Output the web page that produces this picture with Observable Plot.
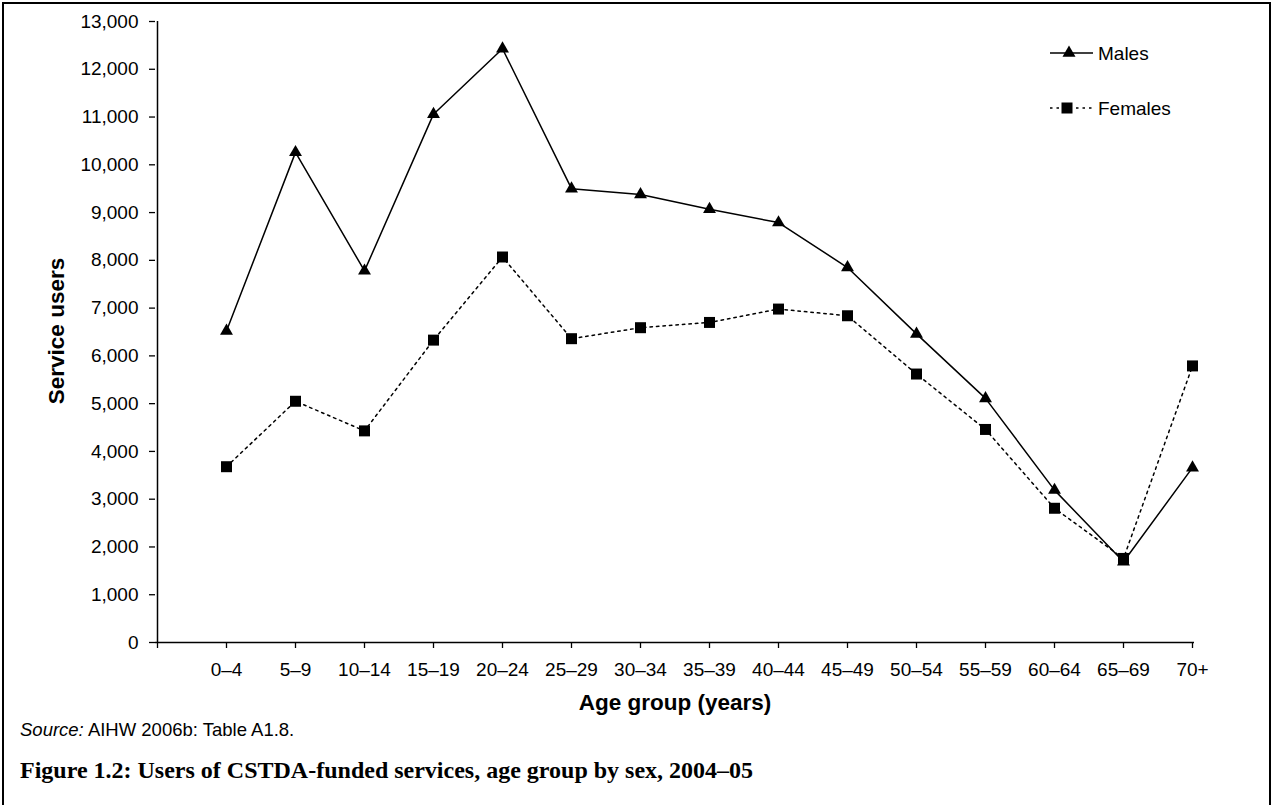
<!DOCTYPE html>
<html>
<head>
<meta charset="utf-8">
<script src="https://cdn.jsdelivr.net/npm/d3@7"></script>
<script src="https://cdn.jsdelivr.net/npm/@observablehq/plot@0.6"></script>
<style>
  html, body { margin: 0; padding: 0; background: #fff; }
  #wrap { position: relative; width: 1274px; height: 805px; overflow: hidden; font-family: "Liberation Sans", Arial, sans-serif; color: #000; }
  #border { position: absolute; left: 2px; top: 2px; width: 1269px; height: 830px; border: 2px solid #000; box-sizing: border-box; }
  #chart { position: absolute; left: 0; top: 0; }
  .abs { position: absolute; white-space: nowrap; line-height: 1; }
  #ytitle { left: 57px; top: 331px; transform: translate(-50%, -50%) rotate(-90deg); font-weight: bold; font-size: 22.5px; }
  #xtitle { left: 675px; top: 703px; transform: translate(-50%, -50%); font-weight: bold; font-size: 22.5px; }
  #source { left: 20px; top: 730px; transform: translateY(-50%); font-size: 18.5px; }
  #caption { left: 20px; top: 770px; transform: translateY(-50%); font-family: "Liberation Serif", "Times New Roman", serif; font-weight: bold; font-size: 24px; }
  .legtext { font-size: 19px; }
</style>
</head>
<body>
<div id="wrap">
  <div id="chart"></div>
  <div id="border"></div>
  <div id="ytitle" class="abs">Service users</div>
  <div id="xtitle" class="abs">Age group (years)</div>
  <div id="source" class="abs"><i>Source:</i> AIHW 2006b: Table A1.8.</div>
  <div id="caption" class="abs">Figure 1.2: Users of CSTDA-funded services, age group by sex, 2004–05</div>
  <svg class="abs" style="left:1040px; top:38px;" width="60" height="90">
    <line x1="10" x2="53" y1="15" y2="15" stroke="#000" stroke-width="1.5"></line>
    <path id="legTri" fill="#000"></path>
    <line x1="10" x2="53" y1="70" y2="70" stroke="#000" stroke-width="1.5" stroke-dasharray="2.5,4"></line>
    <rect x="21.5" y="64.5" width="11" height="11" fill="#000"></rect>
  </svg>
  <div class="abs legtext" style="left:1098px; top:53px; transform: translateY(-50%);">Males</div>
  <div class="abs legtext" style="left:1098px; top:108px; transform: translateY(-50%);">Females</div>
</div>
<script>
const ages = ["0–4","5–9","10–14","15–19","20–24","25–29","30–34","35–39","40–44","45–49","50–54","55–59","60–64","65–69","70+"];
const males = [6520, 10260, 7780, 11060, 12430, 9500, 9380, 9070, 8790, 7850, 6460, 5110, 3190, 1690, 3660];
const females = [3680, 5050, 4430, 6330, 8070, 6360, 6590, 6700, 6980, 6840, 5620, 4460, 2810, 1760, 5790];
const yTicks = d3.range(0, 13001, 1000);

const maleRows = ages.map((a, i) => ({age: a, value: males[i]}));
const femaleRows = ages.map((a, i) => ({age: a, value: females[i]}));
const xDomain = [" ", ...ages];

// legend triangle
(function(){
  const s = 13, h = s * Math.sqrt(3) / 2;
  const cx = 29, cy = 15;
  document.getElementById("legTri").setAttribute("d",
    `M${cx},${cy - h*2/3}L${cx - s/2},${cy + h/3}L${cx + s/2},${cy + h/3}Z`);
})();

const chart = Plot.plot({
  width: 1274,
  height: 700,
  marginTop: 21,
  marginBottom: 58,
  marginLeft: 155,
  marginRight: 80,
  style: {fontFamily: "Liberation Sans, Arial, sans-serif", fontSize: "19px", color: "#000", background: "transparent"},
  x: {type: "point", domain: xDomain, padding: 0, label: null},
  y: {domain: [0, 13000], label: null},
  marks: [
    Plot.axisY({ticks: yTicks, tickFormat: d3.format(","), tickSize: 6, tickPadding: 11, label: null, stroke: "#000", strokeWidth: 1.3}),
    Plot.axisX({tickSize: 6, tickPadding: 14, tickFormat: d => d.trim(), label: null, stroke: "#000", strokeWidth: 1.3}),
    Plot.ruleY([0], {stroke: "#000", strokeWidth: 1.5}),
    Plot.ruleX([" "], {stroke: "#000", strokeWidth: 1.5}),
    Plot.line(femaleRows, {x: "age", y: "value", stroke: "#000", strokeWidth: 1.5, strokeDasharray: "2.5,4"}),
    Plot.line(maleRows, {x: "age", y: "value", stroke: "#000", strokeWidth: 1.5}),
    Plot.dot(femaleRows, {x: "age", y: "value", symbol: "square", r: 6.2, fill: "#000", stroke: null}),
    Plot.dot(maleRows, {x: "age", y: "value", symbol: "triangle", r: 4.8, fill: "#000", stroke: null})
  ]
});
document.getElementById("chart").appendChild(chart);
</script>
</body>
</html>
